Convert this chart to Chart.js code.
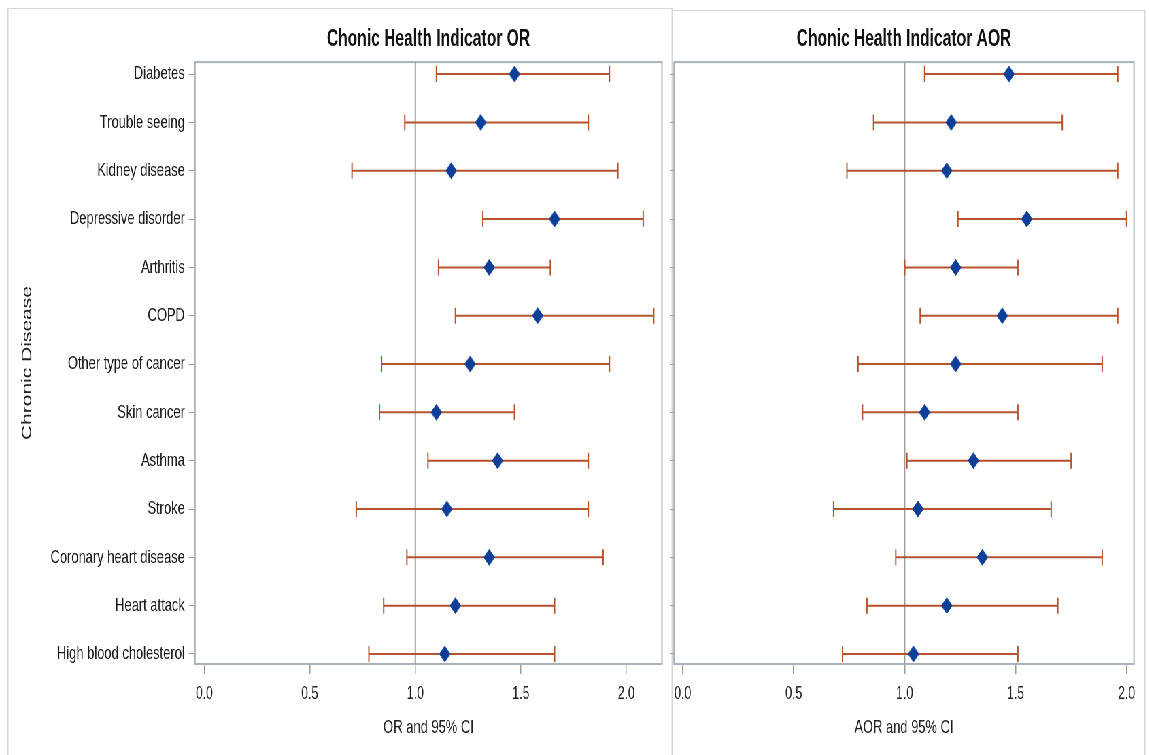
<!DOCTYPE html>
<html><head><meta charset="utf-8">
<script src="https://cdn.jsdelivr.net/npm/chart.js@4.4.1/dist/chart.umd.min.js"></script>
<style>
html,body{margin:0;padding:0;background:#fff;overflow:hidden;width:1149px;height:755px;}
#squash{position:absolute;left:0;top:0;width:1690px;height:755px;transform:scaleX(0.68);transform-origin:0 0;}
#leftBox{position:absolute;left:0;top:0;width:989px;height:755px;}
#rightBox{position:absolute;left:975px;top:0;width:715px;height:755px;}
</style></head><body>
<div id="squash">
  <div id="leftBox"><canvas id="orChart"></canvas></div>
  <div id="rightBox"><canvas id="aorChart"></canvas></div>
</div>
<script>
// ---- data ----
const categories = ["Diabetes","Trouble seeing","Kidney disease","Depressive disorder","Arthritis","COPD","Other type of cancer","Skin cancer","Asthma","Stroke","Coronary heart disease","Heart attack","High blood cholesterol"];
const orEstimate = [1.47, 1.31, 1.17, 1.66, 1.35, 1.58, 1.26, 1.10, 1.39, 1.15, 1.35, 1.19, 1.14];
const orLower    = [1.10, 0.95, 0.70, 1.32, 1.11, 1.19, 0.84, 0.83, 1.06, 0.72, 0.96, 0.85, 0.78];
const orUpper    = [1.92, 1.82, 1.96, 2.08, 1.64, 2.13, 1.92, 1.47, 1.82, 1.82, 1.89, 1.66, 1.66];
const aorEstimate = [1.47, 1.21, 1.19, 1.55, 1.23, 1.44, 1.23, 1.09, 1.31, 1.06, 1.35, 1.19, 1.04];
const aorLower    = [1.09, 0.86, 0.74, 1.24, 1.00, 1.07, 0.79, 0.81, 1.01, 0.68, 0.96, 0.83, 0.72];
const aorUpper    = [1.96, 1.71, 1.96, 2.00, 1.51, 1.96, 1.89, 1.51, 1.75, 1.66, 1.89, 1.69, 1.51];
const xTickValues = [0, 0.5, 1.0, 1.5, 2.0];
const referenceValue = 1;
const titles = ["Chonic Health Indicator OR", "Chonic Health Indicator AOR"];
const xAxisTitles = ["OR and 95% CI", "AOR and 95% CI"];
const yAxisTitle = "Chronic Disease";

// ---- rendering ----
const FONT = "'Liberation Sans', Arial, sans-serif";
const Y_MIN = -0.248, Y_MAX = 12.207;

const plotFrame = {
  id: 'plotFrame',
  beforeDatasetsDraw(chart) {
    const {ctx, chartArea: a} = chart;
    ctx.save();
    ctx.strokeStyle = '#a9b1ba';
    ctx.lineWidth = 2;
    ctx.strokeRect(a.left, a.top, a.right - a.left, a.bottom - a.top);
    ctx.restore();
  }
};
const pageFrame = {
  id: 'pageFrame',
  beforeDraw(chart, args, opts) {
    const ctx = chart.ctx;
    ctx.save();
    ctx.strokeStyle = '#d6d6d6';
    (opts.lines || []).forEach(l => {
      ctx.lineWidth = l[4];
      ctx.beginPath(); ctx.moveTo(l[0], l[1]); ctx.lineTo(l[2], l[3]); ctx.stroke();
    });
    ctx.restore();
  }
};

function buildChart(id, o) {
  const ciData = [];
  o.low.forEach((l, i) => { ciData.push({x: l, y: i}, {x: o.up[i], y: i}, {x: null, y: null}); });
  const estData = o.est.map((v, i) => ({x: v, y: i}));
  const refData = [{x: referenceValue, y: Y_MIN}, {x: referenceValue, y: Y_MAX}];
  return new Chart(document.getElementById(id), {
    type: 'scatter',
    data: { datasets: [
      {label: 'ref', data: refData, showLine: true, borderColor: '#9c9c9c', borderWidth: 2, pointRadius: 0, order: 3},
      {label: 'CI', data: ciData, showLine: true, spanGaps: false, borderColor: '#b5542c', borderWidth: 2,
        pointStyle: 'line', pointRotation: 90, pointRadius: 8, pointBorderWidth: 2, pointBorderColor: '#b5542c', order: 2},
      {label: 'estimate', data: estData, pointStyle: 'rectRot', pointRadius: 8, backgroundColor: '#0e3f98',
        borderColor: '#2a58ad', borderWidth: 1, order: 1}
    ]},
    options: {
      responsive: true, maintainAspectRatio: false, animation: false, events: [],
      layout: {padding: {left: 0, right: o.padRight, top: 0, bottom: 0}},
      plugins: {
        legend: {display: false}, tooltip: {enabled: false},
        title: {display: true, text: o.title, fullSize: false, color: '#111',
          font: {family: FONT, size: 23, weight: 'bold'}, padding: {top: 25.5, bottom: 9}},
        pageFrame: {lines: o.frame}
      },
      scales: {
        x: {
          type: 'linear', position: 'bottom', min: o.xMin, max: o.xMax,
          afterBuildTicks: s => { s.ticks = xTickValues.map(v => ({value: v})); },
          afterFit: s => { s.height = 91; },
          grid: {drawOnChartArea: false, drawTicks: true, tickLength: 10, color: '#9a9a9a', lineWidth: 1.5},
          border: {display: false},
          ticks: {color: '#222', font: {family: FONT, size: 18}, padding: 9, maxRotation: 0, autoSkip: false,
            callback: v => Number(v).toFixed(1)},
          title: {display: true, text: o.xTitle, color: '#222', font: {family: FONT, size: 19}, padding: {top: 0, bottom: 15.6}}
        },
        y: {
          type: 'linear', reverse: true, min: Y_MIN, max: Y_MAX,
          afterBuildTicks: s => { s.ticks = categories.map((c, i) => ({value: i})); },
          afterFit: s => { s.width = o.yWidth; },
          grid: {drawOnChartArea: false, drawTicks: true, tickLength: o.yTick, color: '#9a9a9a', lineWidth: 1},
          border: {display: false},
          ticks: {display: o.showY, color: '#1a1a1a', font: {family: FONT, size: 19}, padding: 6, autoSkip: false,
            callback: v => categories[v]},
          title: {display: !!o.yTitle, text: o.yTitle || '', color: '#222', font: {family: FONT, size: 21}, padding: {top: 27.5, bottom: 0}}
        }
      }
    },
    plugins: [plotFrame, pageFrame]
  });
}

buildChart('orChart', {
  est: orEstimate, low: orLower, up: orUpper, title: titles[0], xTitle: xAxisTitles[0], yTitle: yAxisTitle,
  xMin: -0.044, xMax: 2.169, yWidth: 286.8, yTick: 9, showY: true, padRight: 15.5,
  frame: [[11.8, 8.5, 988, 8.5, 1], [11.8, 8, 11.8, 755, 1.5], [988.3, 8, 988.3, 755, 1.5]]
});
buildChart('aorChart', {
  est: aorEstimate, low: aorLower, up: aorUpper, title: titles[1], xTitle: xAxisTitles[1], yTitle: null,
  xMin: -0.039, xMax: 2.033, yWidth: 16.2, yTick: 6, showY: false, padRight: 22.4,
  frame: [[15, 10.5, 708.8, 10.5, 1], [708.8, 10, 708.8, 755, 1.5]]
});
</script>
</body></html>
